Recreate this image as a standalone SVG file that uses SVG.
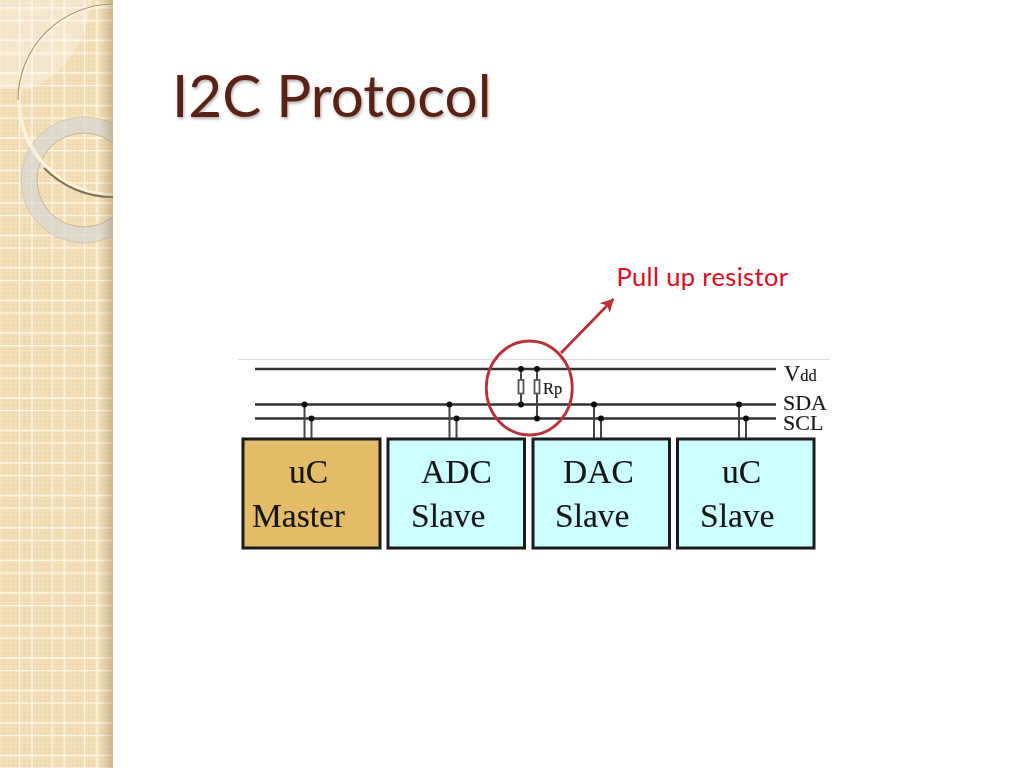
<svg xmlns="http://www.w3.org/2000/svg" width="1024" height="768" viewBox="0 0 1024 768">
<style>
.t{font-family:"Liberation Serif",serif;fill:#161616;stroke:#161616;stroke-width:0.15}
.b{font-size:33.5px}
.bus{stroke:#333;stroke-width:2.400;fill:none}
.stub{stroke:#444;stroke-width:2;fill:none}
.dot{fill:#111}
.box{stroke:#1c1c1c;stroke-width:3}
.cy{fill:#ccffff}
.res{fill:#fff;stroke:#555;stroke-width:1.800}
</style>
<defs>
<pattern id="dots" width="4" height="4" patternUnits="userSpaceOnUse"><rect width="4" height="4" fill="#f2dfb9"/><rect width="2" height="2" fill="#eed8ac"/></pattern>
<pattern id="grid" width="32.5" height="32.5" patternUnits="userSpaceOnUse" x="19" y="20">
<path d="M0.500 0V32.500M13 0V32.500M0 0.500H32.500M0 20.500H32.500" stroke="#fff8ea" stroke-width="1.500" fill="none"/></pattern>
<linearGradient id="edge" x1="0" x2="1" y1="0" y2="0"><stop offset="0" stop-color="#8f7c58" stop-opacity="0"/><stop offset="1" stop-color="#8f7c58" stop-opacity="0.4"/></linearGradient>
<clipPath id="side"><rect width="113" height="768"/></clipPath>
<filter id="ts" x="-5%" y="-5%" width="110%" height="115%"><feDropShadow dx="1" dy="2" stdDeviation="1.500" flood-color="#000" flood-opacity="0.3"/></filter>
<filter id="soft" filterUnits="userSpaceOnUse" x="220" y="285" width="630" height="285"><feGaussianBlur stdDeviation="0.450"/></filter>
<marker id="ah" markerWidth="16" markerHeight="16" refX="12.500" refY="7" orient="auto" markerUnits="userSpaceOnUse"><path d="M0 0L13 7L0 14L3.500 7Z" fill="#b8303a"/></marker>
</defs>
<rect width="1024" height="768" fill="#fff"/>
<g id="sidebar" clip-path="url(#side)">
<rect width="113" height="768" fill="url(#dots)"/>
<rect width="113" height="768" fill="url(#grid)"/>
<path d="M0 0H92C86 40 70 70 30 89L0 89Z" fill="#fff" opacity="0.3"/>
<circle cx="84" cy="180" r="55" fill="none" stroke="#d6d6d2" stroke-width="16" opacity="0.7"/>
<circle cx="84" cy="180" r="63" fill="none" stroke="#cfc4a6" stroke-width="0.800"/>
<circle cx="84" cy="180" r="47" fill="none" stroke="#c6b690" stroke-width="1"/>
<circle cx="114" cy="100" r="95" fill="none" stroke="#fbf3dc" stroke-width="3.500"/>
<path d="M114 4A96 96 0 0 0 18 100" fill="none" stroke="#a9966f" stroke-width="1.200"/>
<path d="M44 168A96 96 0 0 0 114 197" fill="none" stroke="#84734f" stroke-width="2.200"/>
<rect x="100" width="13" height="768" fill="url(#edge)"/>
</g>
<text id="title" x="172" y="117" font-family="Lato,sans-serif" font-size="58.400" fill="#5a2116" filter="url(#ts)">I2C Protocol</text>
<text id="callout" x="616.500" y="286" font-family="Lato,sans-serif" font-size="25.500" letter-spacing="0.350" fill="#dd0a1e">Pull up resistor</text>
<g id="figure" filter="url(#soft)">
<path id="hairline" d="M238 359.500H830" stroke="#dcdcdc" stroke-width="1" fill="none"/>
<g id="connectors">
<path class="bus" d="M255 369H776M255 404.500H776M255 418.500H776"/>
<path class="stub" d="M304.500 404.500V439M311.500 418.500V439M449.500 404.500V439M456.500 418.500V439M594 404.500V439M601 418.500V439M739 404.500V439M746 418.500V439M521 369V404.500M537 369V418.500"/>
<g class="dot">
<circle cx="304.500" cy="404.500" r="3"/><circle cx="311.500" cy="418.500" r="3"/>
<circle cx="449.500" cy="404.500" r="3"/><circle cx="456.500" cy="418.500" r="3"/>
<circle cx="594" cy="404.500" r="3"/><circle cx="601" cy="418.500" r="3"/>
<circle cx="739" cy="404.500" r="3"/><circle cx="746" cy="418.500" r="3"/>
<circle cx="521" cy="369" r="3"/><circle cx="537" cy="369" r="3"/>
<circle cx="521" cy="404.500" r="3"/><circle cx="537" cy="418.500" r="3"/>
</g>
<path d="M561 353L613.500 299" stroke="#b8303a" stroke-width="2.800" fill="none" marker-end="url(#ah)"/>
</g>
<g id="rp1"><rect class="res" x="518.500" y="380" width="5" height="13.500"/></g>
<g id="rp2"><rect class="res" x="534.500" y="380" width="5" height="13.500"/><text class="t" x="543" y="394" font-size="16.500">Rp</text></g>
<ellipse id="highlight" cx="529.300" cy="388" rx="43" ry="47" fill="none" stroke="#b8303a" stroke-width="2.800"/>
<g id="labels" class="t">
<text id="vdd" x="784" y="380.500" font-size="22.500">V<tspan font-size="16.500">dd</tspan></text>
<text id="sda" x="783" y="410" font-size="22">SDA</text>
<text id="scl" x="783" y="430" font-size="22">SCL</text>
</g>
<g id="master"><rect class="box" x="243" y="439" width="137" height="109" fill="#e3bc69"/><text class="t b" x="289" y="483">uC</text><text class="t b" x="252" y="527">Master</text></g>
<g id="adc"><rect class="box cy" x="388" y="439" width="136.500" height="109"/><text class="t b" x="421" y="483">ADC</text><text class="t b" x="411" y="527">Slave</text></g>
<g id="dac"><rect class="box cy" x="533" y="439" width="136.500" height="109"/><text class="t b" x="563" y="483">DAC</text><text class="t b" x="555" y="527">Slave</text></g>
<g id="slave"><rect class="box cy" x="677.500" y="439" width="136.500" height="109"/><text class="t b" x="722" y="483">uC</text><text class="t b" x="700" y="527">Slave</text></g>
</g>
</svg>
